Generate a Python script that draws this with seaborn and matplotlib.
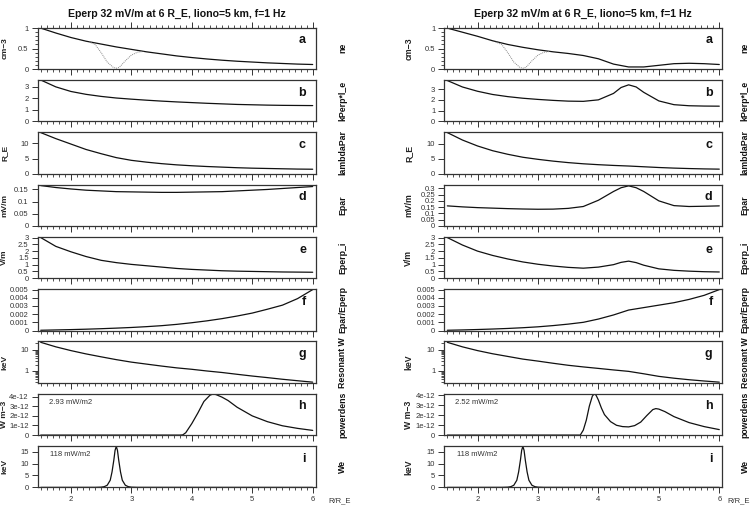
import matplotlib
matplotlib.use("Agg")
import matplotlib.pyplot as plt
from matplotlib.ticker import MultipleLocator, FixedLocator, FixedFormatter, NullFormatter
import seaborn as sns

# two runs of the same model, left: plain profile, right: with a second cavity near 4.5 R_E
TITLE = "Eperp 32 mV/m at 6 R_E, liono=5 km, f=1 Hz"

x_grid = [1.5, 1.75, 2.0, 2.25, 2.5, 2.75, 3.0, 3.25, 3.5, 3.75, 4.0,
          4.25, 4.5, 4.75, 5.0, 5.25, 5.5, 5.75, 6.0]
x_fine = [1.5, 1.75, 2.0, 2.25, 2.5, 2.75, 3.0, 3.25, 3.5, 3.75, 4.0,
          4.25, 4.375, 4.5, 4.625, 4.75, 5.0, 5.25, 5.5, 5.75, 6.0]

# a: ne (cm-3)
ne_left = [1.0, 0.88, 0.77, 0.68, 0.61, 0.54, 0.48, 0.42, 0.37, 0.32, 0.28,
           0.245, 0.215, 0.19, 0.17, 0.15, 0.135, 0.12, 0.11]
ne_right = [1.0, 0.9, 0.8, 0.69, 0.6, 0.53, 0.47, 0.42, 0.38, 0.33, 0.25,
            0.12, 0.05, 0.05, 0.09, 0.13, 0.14, 0.13, 0.11]
x_cavity = [2.3, 2.4, 2.5, 2.6, 2.7, 2.75, 2.8, 2.9, 3.0, 3.1, 3.2]
ne_cavity = [0.66, 0.6, 0.4, 0.17, 0.04, 0.02, 0.04, 0.2, 0.34, 0.41, 0.43]

# b: kPerp*l_e
kperp_left = [3.6, 3.0, 2.6, 2.35, 2.17, 2.03, 1.93, 1.84, 1.76, 1.69, 1.63,
              1.57, 1.52, 1.47, 1.44, 1.41, 1.39, 1.38, 1.37]
kperp_right = [3.8, 3.2, 2.8, 2.5, 2.3, 2.15, 2.04, 1.95, 1.88, 1.86, 2.0,
               2.6, 3.15, 3.4, 3.2, 2.7, 1.9, 1.55, 1.45, 1.42, 1.41]

# c: lambdaPar (R_E)
lpar_left = [13.6, 11.6, 9.8, 8.0, 6.6, 5.3, 4.4, 3.8, 3.3, 2.9, 2.6,
             2.35, 2.15, 1.95, 1.8, 1.7, 1.6, 1.5, 1.45]
lpar_right = [13.8, 11.3, 9.3, 7.7, 6.5, 5.5, 4.8, 4.2, 3.7, 3.3, 3.0,
              2.75, 2.55, 2.3, 2.05, 1.85, 1.7, 1.58, 1.5]

# d: Epar (mV/m)
epar_left = [0.166, 0.158, 0.152, 0.147, 0.144, 0.141, 0.14, 0.139, 0.138, 0.138, 0.139,
             0.14, 0.141, 0.144, 0.147, 0.15, 0.154, 0.158, 0.162]
epar_right = [0.16, 0.152, 0.146, 0.142, 0.138, 0.135, 0.133, 0.134, 0.14, 0.155, 0.205,
              0.275, 0.305, 0.32, 0.305, 0.275, 0.2, 0.162, 0.155, 0.157, 0.16]

# e: Eperp_i (V/m)
eperp_left = [3.0, 2.35, 1.95, 1.6, 1.32, 1.15, 1.02, 0.92, 0.82, 0.72, 0.65,
              0.6, 0.55, 0.52, 0.5, 0.48, 0.46, 0.45, 0.44]
eperp_right = [3.0, 2.45, 2.0, 1.68, 1.42, 1.2, 1.03, 0.9, 0.8, 0.74, 0.82,
               1.0, 1.17, 1.26, 1.15, 0.96, 0.69, 0.58, 0.52, 0.48, 0.46]

# f: Epar/Eperp
ratio_left = [0.00003, 0.00007, 0.00011, 0.00016, 0.00022, 0.00029, 0.00037, 0.00047,
              0.00059, 0.00075, 0.00095, 0.00118, 0.00145, 0.00177, 0.00213, 0.0026,
              0.0031, 0.0039, 0.005]
ratio_right = [0.00003, 0.00007, 0.00012, 0.00018, 0.00025, 0.00034, 0.00045, 0.0006,
               0.00078, 0.001, 0.0014, 0.0019, 0.0025, 0.0028, 0.0031, 0.0034,
               0.0038, 0.0043, 0.005]

# g: resonant W (keV)
wres_left = [22, 13.5, 9.0, 6.3, 4.6, 3.4, 2.6, 2.1, 1.7, 1.4, 1.2,
             1.0, 0.85, 0.7, 0.58, 0.49, 0.41, 0.35, 0.3]
wres_right = [22, 13.5, 9.0, 6.4, 4.8, 3.6, 2.9, 2.3, 1.85, 1.55, 1.32,
              1.12, 0.96, 0.74, 0.56, 0.46, 0.39, 0.34, 0.3]

# h: powerdens (W m-3)
x_pow_left = [1.5, 3.8, 3.85, 3.9, 4.0, 4.1, 4.2, 4.3, 4.35, 4.4, 4.5, 4.6,
              4.75, 5.0, 5.25, 5.5, 5.75, 6.0]
pow_left = [0, 0, 0.02e-12, 0.25e-12, 1.2e-12, 2.3e-12, 3.5e-12, 4.15e-12, 4.28e-12,
            4.22e-12, 3.95e-12, 3.6e-12, 2.9e-12, 2.0e-12, 1.4e-12, 0.97e-12, 0.7e-12, 0.49e-12]
x_pow_right = [1.5, 3.7, 3.75, 3.8, 3.85, 3.9, 3.93, 3.96, 4.0, 4.05, 4.1, 4.2, 4.3,
               4.4, 4.5, 4.6, 4.7, 4.8, 4.9, 4.95, 5.0, 5.1, 5.25, 5.5, 5.75, 6.0]
pow_right = [0, 0, 0.5e-12, 1.5e-12, 2.9e-12, 3.9e-12, 4.12e-12, 4.0e-12, 3.5e-12,
             2.7e-12, 2.05e-12, 1.35e-12, 0.98e-12, 0.85e-12, 0.82e-12, 0.95e-12,
             1.3e-12, 1.95e-12, 2.55e-12, 2.65e-12, 2.6e-12, 2.35e-12, 1.85e-12,
             1.25e-12, 0.85e-12, 0.55e-12]

# i: We (keV)
x_we = [1.5, 2.4, 2.5, 2.55, 2.6, 2.65, 2.68, 2.71, 2.73, 2.75, 2.77, 2.79,
        2.82, 2.85, 2.9, 2.95, 3.0, 3.1, 6.0]
we = [0, 0.02, 0.1, 0.3, 0.9, 3.0, 6.5, 11.5, 15.5, 17.2, 15.5, 11.5,
      6.5, 3.0, 0.9, 0.3, 0.1, 0.02, 0]

pow_text = ["2.93 mW/m2", "2.52 mW/m2"]
we_text = ["118 mW/m2", "118 mW/m2"]

names = ["ne", "kPerp*l_e", "lambdaPar", "Epar", "Eperp_i", "Epar/Eperp",
         "Resonant W", "powerdens", "We"]
units = ["cm\u22123", "", "R_E", "mV/m", "V/m", "", "keV", "W m\u22123", "keV"]
letters = list("abcdefghi")

sns.set_theme(style="ticks")
plt.rcParams["font.family"] = ["Liberation Sans", "DejaVu Sans"]
plt.rcParams["axes.edgecolor"] = "#333333"
plt.rcParams["axes.linewidth"] = 0.9
plt.rcParams["xtick.color"] = "#333333"
plt.rcParams["ytick.color"] = "#333333"
plt.rcParams["xtick.labelcolor"] = "#333333"
plt.rcParams["ytick.labelcolor"] = "#333333"

W, H = 751, 526
fig = plt.figure(figsize=(W / 100, H / 100), dpi=100)

cols = [
    dict(x0=37.7, ne=ne_left, kp=(x_grid, kperp_left), lp=lpar_left,
         ep=(x_grid, epar_left), ei=(x_grid, eperp_left), ra=ratio_left, wr=wres_left,
         pw=(x_pow_left, pow_left), pt=pow_text[0], wt=we_text[0],
         unit_x=-0.106, unit_fs=6.0, name_x=1.098, rre_x=1.045,
         ylims=[(0, 1.01), (0, 3.6), (0, 13.7), (0, 0.17), (0, 3.05), (0, 0.00505),
                (0.28, 24), (0, 4.3e-12), (0, 17.3)],
         dticks=[0, 0.05, 0.1, 0.15], dlabels=["0", "0.05", "0.1", "0.15"]),
    dict(x0=444.3, ne=ne_right, kp=(x_fine, kperp_right), lp=lpar_right,
         ep=(x_fine, epar_right), ei=(x_fine, eperp_right), ra=ratio_right, wr=wres_right,
         pw=(x_pow_right, pow_right), pt=pow_text[1], wt=we_text[1],
         unit_x=-0.112, unit_fs=6.3, name_x=1.082, rre_x=1.018,
         ylims=[(0, 1.01), (0, 3.85), (0, 13.9), (0, 0.33), (0, 3.05), (0, 0.00505),
                (0.28, 24), (0, 4.13e-12), (0, 17.3)],
         dticks=[0, 0.05, 0.1, 0.15, 0.2, 0.25, 0.3],
         dlabels=["0", "0.05", "0.1", "0.15", "0.2", "0.25", "0.3"]),
]

yticks = [
    ([0, 0.5, 1], ["0", "0.5", "1"]),
    ([0, 1, 2, 3], ["0", "1", "2", "3"]),
    ([0, 5, 10], ["0", "5", "10"]),
    None,
    ([0, 0.5, 1, 1.5, 2, 2.5, 3], ["0", "0.5", "1", "1.5", "2", "2.5", "3"]),
    ([0, 0.001, 0.002, 0.003, 0.004, 0.005], ["0", "0.001", "0.002", "0.003", "0.004", "0.005"]),
    ([1, 10], ["1", "10"]),
    ([0, 1e-12, 2e-12, 3e-12, 4e-12], ["0", "1e-12", "2e-12", "3e-12", "4e-12"]),
    ([0, 5, 10, 15], ["0", "5", "10", "15"]),
]

AW, AH, TOP0, STEP = 278, 41.3, 27.7, 52.3
LINE = dict(color="#111111", linewidth=0.9, estimator=None)

for c in cols:
    series = [
        (x_grid, c["ne"]), c["kp"], (x_grid, c["lp"]), c["ep"], c["ei"],
        (x_grid, c["ra"]), (x_grid, c["wr"]), c["pw"], (x_we, we),
    ]
    for k in range(9):
        top = TOP0 + k * STEP
        ax = fig.add_axes([c["x0"] / W, 1 - (top + AH) / H, AW / W, AH / H])
        xs, ys = series[k]
        if k == 6:
            ax.set_yscale("log")
        sns.lineplot(x=xs, y=ys, ax=ax, **LINE)
        if k == 0:
            sns.lineplot(x=x_cavity, y=ne_cavity, ax=ax, color="#888888",
                         linewidth=0.7, linestyle=(0, (1, 1)), estimator=None)
        ax.set_xlim(1.45, 6.05)
        ax.set_ylim(*c["ylims"][k])
        ax.xaxis.set_major_locator(MultipleLocator(1))
        ax.xaxis.set_minor_locator(MultipleLocator(0.1))
        if k == 3:
            ax.yaxis.set_major_locator(FixedLocator(c["dticks"]))
            ax.yaxis.set_major_formatter(FixedFormatter(c["dlabels"]))
        else:
            ax.yaxis.set_major_locator(FixedLocator(yticks[k][0]))
            ax.yaxis.set_major_formatter(FixedFormatter(yticks[k][1]))
        if k == 0:
            ax.yaxis.set_minor_locator(MultipleLocator(0.1))
        if k == 6:
            ax.yaxis.set_minor_formatter(NullFormatter())
        ax.tick_params(axis="x", which="both", top=(k == 0), bottom=True,
                       labelbottom=(k == 8), direction="out")
        ax.tick_params(which="major", length=4.5, width=0.7, labelsize=5.5, pad=2)
        ax.tick_params(which="minor", length=2.5, width=0.6)
        for s in ax.spines.values():
            s.set_visible(True)
        ax.set_xlabel("")
        ax.set_ylabel(units[k], fontsize=c["unit_fs"], fontweight="bold", color="#222222")
        ax.yaxis.set_label_coords(c["unit_x"], 0.5)
        ax.text(0.965, 0.62, letters[k], transform=ax.transAxes, ha="right",
                va="baseline", fontsize=9, fontweight="bold", color="#111111")
        ax.text(c["name_x"], 0.5, names[k], transform=ax.transAxes, rotation=90,
                ha="center", va="center", fontsize=6.3, fontweight="bold", color="#111111")
        if k == 7:
            ax.text(0.04, 0.79, c["pt"], transform=ax.transAxes, ha="left",
                    va="center", fontsize=5.5, color="#333333")
        if k == 8:
            ax.text(0.045, 0.79, c["wt"], transform=ax.transAxes, ha="left",
                    va="center", fontsize=5.5, color="#333333")
            ax.text(c["rre_x"], -0.32, "R/R_E", transform=ax.transAxes, ha="left",
                    va="center", fontsize=5.5, color="#333333")
        if k == 0:
            ax.set_title(TITLE, fontsize=7.6, fontweight="bold", color="#111111", pad=8)

fig.savefig("out.png", dpi=100, facecolor="white")
